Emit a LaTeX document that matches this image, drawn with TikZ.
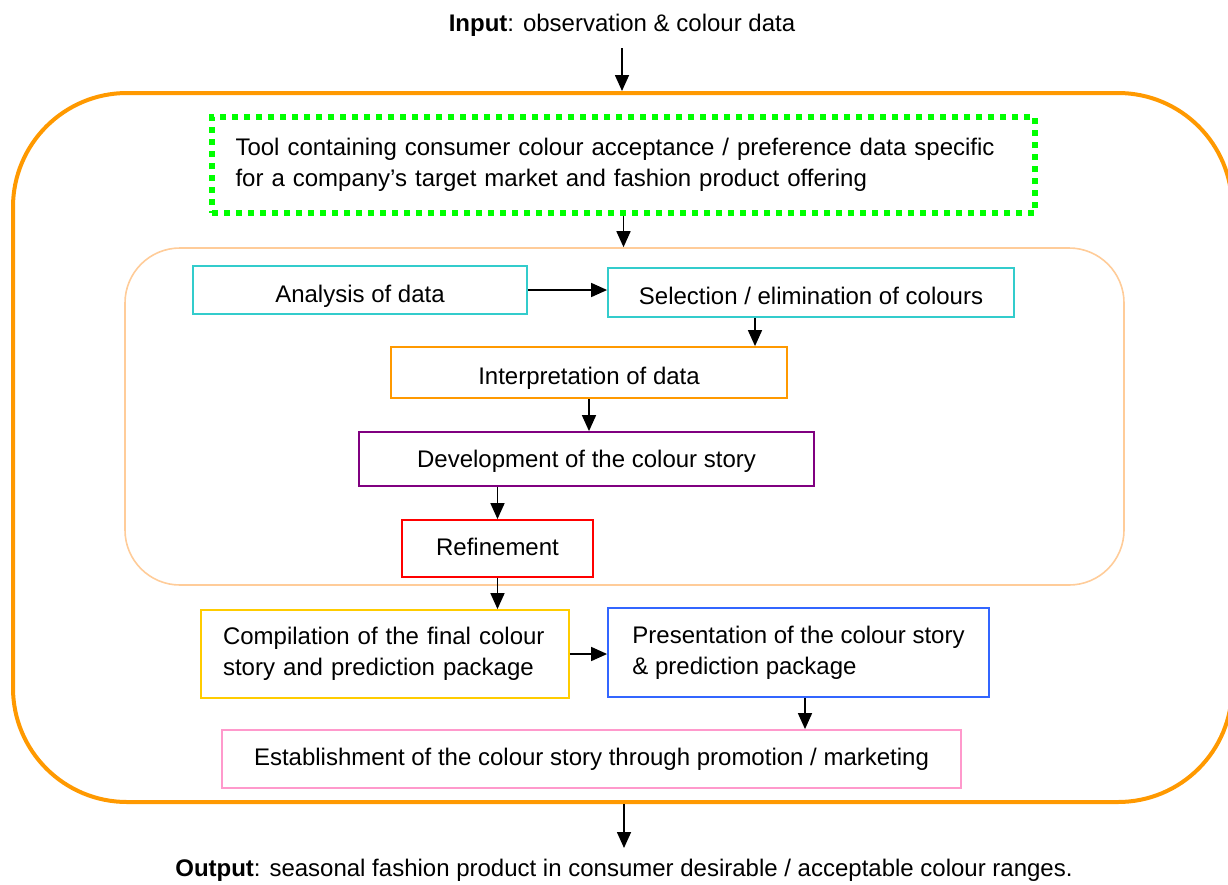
\documentclass[tikz,border=0pt]{standalone}
\usepackage{fontspec}
\setmainfont{Liberation Sans}
\usetikzlibrary{arrows.meta,calc}
\definecolor{frameorange}{HTML}{FF9900}
\definecolor{paleorange}{HTML}{FFCC99}
\definecolor{toolgreen}{HTML}{00FF00}
\definecolor{boxcyan}{HTML}{33CCCC}
\definecolor{boxorange}{HTML}{FF9900}
\definecolor{boxpurple}{HTML}{800080}
\definecolor{boxred}{HTML}{FF0000}
\definecolor{boxgold}{HTML}{FFCC00}
\definecolor{boxblue}{HTML}{3366FF}
\definecolor{boxpink}{HTML}{FF99CC}
\tikzset{
  txt/.style={font=\fontsize{24}{31}\selectfont},
  stepbox/.style={txt, draw, line width=1.8pt, inner sep=0pt, align=center},
  % baseline sits #1 below the box centre
  lowered/.style={text depth=0pt, text height=#1*2pt},
  flow/.style={line width=1.6pt, -{Triangle[length=16pt,width=14pt]}},
}
\begin{document}
\begin{tikzpicture}[x=1pt,y=-1pt]
\useasboundingbox (0,0) rectangle (1228,884);

% outer process frame and inner analysis frame
\node[draw=frameorange, line width=4pt, rounded corners=114pt, minimum width=1219pt, minimum height=709pt, inner sep=0pt] (outer) at (622.5,447.5) {};
\node[draw=paleorange, line width=1.6pt, rounded corners=55pt, minimum width=999pt, minimum height=337pt, inner sep=0pt] (inner) at (624.5,416.5) {};

% input and output labels
\node[txt, anchor=base] (input) at (622,31.7) {\textbf{Input}: observation \& colour data};
\node[txt, anchor=base] (output) at (624,876) {\textbf{Output}: seasonal fashion product in consumer desirable / acceptable colour ranges.};
\coordinate (inArr) at (622,48);
\coordinate (outArr) at (624,848);

% tool box
\node[txt, draw=toolgreen, line width=6pt, dash pattern=on 6pt off 6pt, align=left, text width=776pt, minimum width=823pt, minimum height=96pt, inner sep=0pt] (tool) at (623.5,165)
  {Tool containing consumer colour acceptance / preference data specific\\for a company’s target market and fashion product offering};

% process steps
\node[stepbox, draw=boxcyan, lowered=12.7, minimum width=334pt, minimum height=48pt] (ana) at (360,290) {Analysis of data};
\node[stepbox, draw=boxcyan, lowered=11.5, minimum width=406pt, minimum height=49pt] (sel) at (811,292.5) {Selection / elimination of colours};
\node[stepbox, draw=boxorange, lowered=11.5, minimum width=396pt, minimum height=51pt] (interp) at (589,372.5) {Interpretation of data};
\node[stepbox, draw=boxpurple, lowered=8.7, minimum width=455pt, minimum height=54pt] (dev) at (586.5,459) {Development of the colour story};
\node[stepbox, draw=boxred, lowered=6.5, minimum width=191pt, minimum height=57pt] (ref) at (497.5,548.5) {Refinement};
\node[stepbox, draw=boxgold, align=left, text width=324pt, minimum width=368pt, minimum height=88pt] (comp) at (385,654)
  {Compilation of the final colour\\story and prediction package};
\node[stepbox, draw=boxblue, align=left, minimum width=381pt, minimum height=89pt] (pres) at (798.5,652.5)
  {Presentation of the colour story\\\& prediction package};
\node[stepbox, draw=boxpink, lowered=6.7, minimum width=739pt, minimum height=58pt] (est) at (591.5,759) {Establishment of the colour story through promotion / marketing};

% connector columns
\coordinate (xSel) at (755,0);
\coordinate (xPres) at (805,0);

% connectors
\draw[flow] (inArr) -- (inArr |- outer.north);
\draw[flow] (tool.south) -- (tool.south |- inner.north);
\draw[flow] (ana.east) -- (ana.east -| sel.west);
\draw[flow] (sel.south -| xSel) -- (interp.north -| xSel);
\draw[flow] (interp.south) -- (interp.south |- dev.north);
\draw[flow] (dev.south -| ref.north) -- (ref.north);
\draw[flow] (ref.south) -- (ref.south |- comp.north);
\draw[flow] (comp.east) -- (comp.east -| pres.west);
\draw[flow] (pres.south -| xPres) -- (est.north -| xPres);
\draw[flow] (outArr |- outer.south) -- (outArr);
\end{tikzpicture}
\end{document}
